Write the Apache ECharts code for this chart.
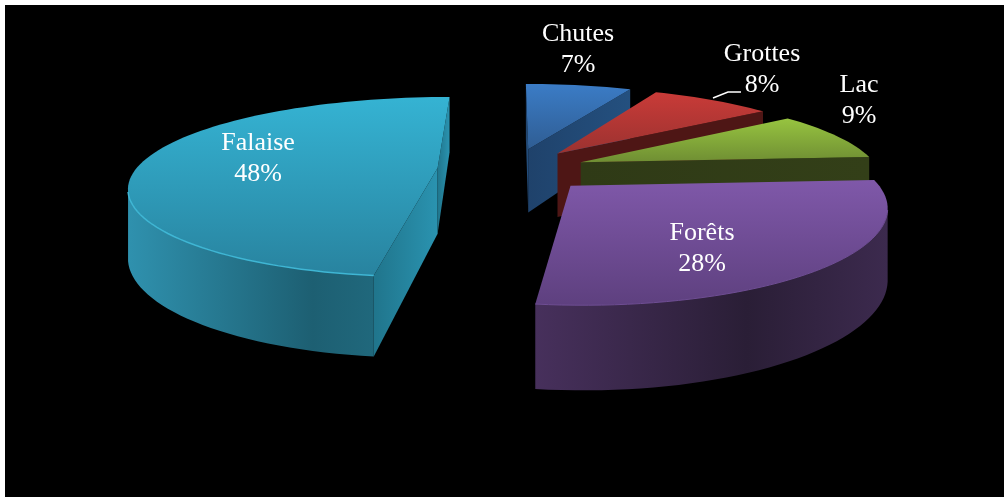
<!DOCTYPE html>
<html><head><meta charset="utf-8">
<style>html,body{margin:0;padding:0;background:#fff}#c{width:1004px;height:497px}</style>
<script src="https://cdn.jsdelivr.net/npm/echarts@6/dist/echarts.min.js"></script>
</head><body><div id="c"></div>
<script>
var categories = ['Chutes','Grottes','Lac','Forêts','Falaise'];
var values = [7,8,9,28,48];
var percentLabels = ['7%','8%','9%','28%','48%'];

// Styles (not data)
var topColors = [['#3b7cc6','#2f5d93'],['#c93b38','#9b3230'],['#97c440','#6f8e33'],['#7f58a9','#5e407f'],['#35b3d3','#28839f']];
var wallColors = [['#2a5a8e','#1d3d64'],['#561817','#4a1413'],['#343f18','#2f3a16'],['#47305c','#2a1e36'],['#2f91ae','#1d5f72']];
var sideColors = [['#1f426b','#24507f'],['#4e1615','#4e1615'],['#2f3a16','#333f18'],['#47305c','#47305c'],['#20758c','#2a93b0']];
var rimColors = ['#4a8ad0','#d04a47','#a2cf50','#6f4e94','#3fb6d4'];
var rimWidths = [1,1,1,1,1.5];
var labelAt = [[578,50],[762,70],[859,101],[702,249],[258,159]];
var leader = [[713,98],[728,92],[741,92]];
var nudgeX = [1,0,0,6,1];

// Projection settings
var cx=511.7, cy=169.4, A=298, leftStretch=1.013, B=414, k=0.209, kx=0.19, H=66, explode=0.25, D=1/0.19;
function pr(X,Y,Z,dx){
  var wx=1/(1+kx*Y), wy=1/(1+k*Y), sx=X<0?leftStretch:1;
  return [cx+(dx||0)+X*A*wx*sx, cy+B*(wy-1)+(Z||0)*H*wx];
}
var total = values.reduce(function(a,b){return a+b},0);

function renderItem(params, api){
  var i=params.dataIndex, v=api.value(0), before=0, dx=nudgeX[i];
  for(var j=0;j<i;j++) before+=values[j];
  var a0=before/total*2*Math.PI, a1=(before+v)/total*2*Math.PI, mid=(a0+a1)/2;
  var ox=explode*Math.sin(mid), oy=explode*Math.cos(mid);
  var n=Math.max(4,Math.ceil((a1-a0)/(Math.PI/90)));
  var arc=[];
  for(var s=0;s<=n;s++){
    var t=a0+(a1-a0)*s/n;
    arc.push([ox+Math.sin(t),oy+Math.cos(t),t]);
  }
  var ch=[];
  function poly(pts,fill){
    ch.push({type:'polygon',silent:true,shape:{points:pts},style:{fill:fill,stroke:null}});
  }
  function hgrad(c){return {type:'linear',x:0,y:0,x2:1,y2:0,colorStops:[{offset:0,color:c[0]},{offset:1,color:c[1]}]};}
  function radial(a,nx,ny){
    if(ox*nx+(oy+D)*ny<0){
      var P=[ox+Math.sin(a),oy+Math.cos(a)];
      poly([pr(ox,oy,0,dx),pr(P[0],P[1],0,dx),pr(P[0],P[1],1,dx),pr(ox,oy,1,dx)],hgrad(sideColors[i]));
    }
  }
  radial(a0,-Math.cos(a0),Math.sin(a0));
  radial(a1,Math.cos(a1),-Math.sin(a1));
  var front=arc.filter(function(p){return p[0]*Math.sin(p[2])+(p[1]+D)*Math.cos(p[2])<0;});
  if(front.length>1){
    var tp=front.map(function(p){return pr(p[0],p[1],0,dx)});
    var bp=front.map(function(p){return pr(p[0],p[1],1,dx)}).reverse();
    var g=hgrad(wallColors[i]);
    if(i===4){g.colorStops=[{offset:0,color:'#2f91ae'},{offset:.75,color:'#1d5f72'},{offset:1,color:'#20687c'}];}
    if(i===3){g.colorStops=[{offset:0,color:'#47305c'},{offset:.6,color:'#2a1e36'},{offset:1,color:'#3c2a4e'}];}
    poly(tp.concat(bp),g);
  }
  var top=[pr(ox,oy,0,dx)].concat(arc.map(function(p){return pr(p[0],p[1],0,dx)}));
  poly(top,{type:'linear',x:0,y:0,x2:0,y2:1,colorStops:[{offset:0,color:topColors[i][0]},{offset:1,color:topColors[i][1]}]});
  if(front.length>1){
    ch.push({type:'polyline',silent:true,shape:{points:front.map(function(p){return pr(p[0],p[1],0,dx)})},style:{stroke:rimColors[i],lineWidth:rimWidths[i],fill:null}});
  }
  ch.push({type:'text',silent:true,style:{x:labelAt[i][0],y:labelAt[i][1],text:api.value(1)+'\n'+percentLabels[i],fill:'#fff',font:'26px "Liberation Serif"',lineHeight:31,align:'center',verticalAlign:'middle'}});
  if(i===1){
    ch.push({type:'polyline',silent:true,shape:{points:leader},style:{stroke:'#fff',lineWidth:1.5,fill:null}});
  }
  return {type:'group',children:ch};
}

var chart=echarts.init(document.getElementById('c'),null,{renderer:'canvas'});
chart.setOption({
  backgroundColor:'#fff',
  animation:false,
  graphic:[{type:'rect',left:5,top:5,z:-1,shape:{width:999,height:492},style:{fill:'#000'}}],
  series:[{type:'custom',coordinateSystem:'none',renderItem:renderItem,
    dimensions:['value','name'],
    encode:{value:0},
    data:categories.map(function(c,i){return [values[i],c];})}]
});
</script></body></html>
